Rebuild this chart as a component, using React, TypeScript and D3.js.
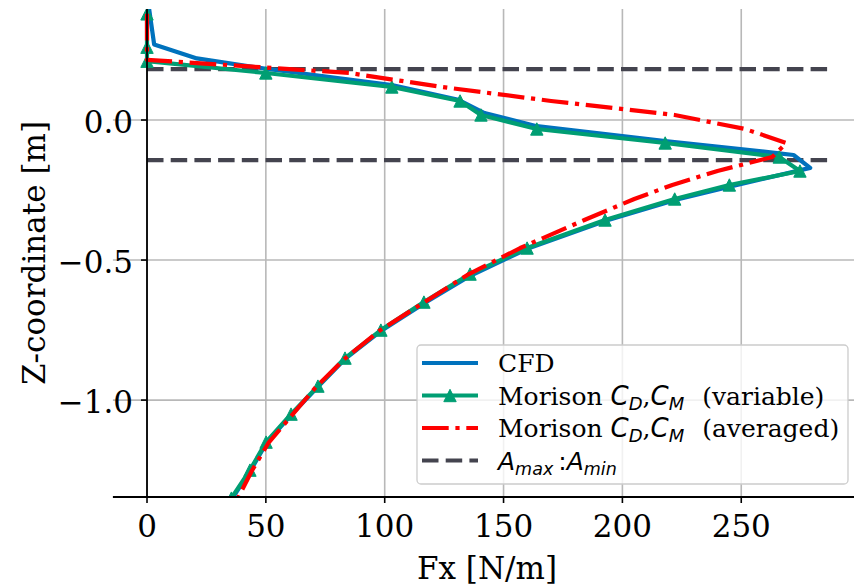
import React from 'react';
import * as d3 from 'd3';

// ---- data ----
const cfdX = [0.5, 3, 21, 50, 103, 131, 142, 164, 218, 265, 272, 279, 246, 223, 193, 160, 136, 117, 98.6, 83.5, 72, 60.8, 50.3, 43.5, 35.8];
const cfdZ = [0.42, 0.27, 0.22, 0.183, 0.125, 0.072, 0.025, -0.022, -0.075, -0.118, -0.125, -0.171, -0.236, -0.284, -0.36, -0.46, -0.556, -0.652, -0.752, -0.852, -0.952, -1.052, -1.152, -1.252, -1.352];

const varX = [0, 0, 0, 50, 103, 131.7, 140.5, 164, 218, 266, 274.7, 245, 222, 192.7, 159.9, 135.9, 116.5, 98.4, 83.3, 71.9, 60.6, 50.1, 43.3, 35.5];
const varZ = [0.379, 0.26, 0.21, 0.168, 0.118, 0.068, 0.018, -0.032, -0.082, -0.132, -0.182, -0.232, -0.282, -0.357, -0.457, -0.55, -0.65, -0.75, -0.85, -0.95, -1.05, -1.15, -1.25, -1.35];

const avgX = [0, 0, 0, 85, 124, 170, 222, 251.6, 269, 263, 240, 221, 205, 184, 157, 134.6, 116, 97.5, 83, 71, 61, 51, 44, 38];
const avgZ = [0.379, 0.26, 0.215, 0.168, 0.118, 0.068, 0.018, -0.032, -0.082, -0.132, -0.182, -0.232, -0.282, -0.357, -0.457, -0.554, -0.654, -0.754, -0.854, -0.954, -1.054, -1.154, -1.254, -1.354];

const ampZ = [0.182, -0.143];
const ampXRange = [0, 286.5];

const xTicks = [0, 50, 100, 150, 200, 250];
const yTicks = [-1.0, -0.5, 0.0];
const xLabel = 'Fx [N/m]';
const yLabel = 'Z-coordinate [m]';

const BLUE = '#0072BD';
const GREEN = '#009E73';
const RED = '#FF0000';
const DARK = '#44444f';
const SERIF = '"DejaVu Serif", serif';
const SANS = '"DejaVu Sans", sans-serif';

const tri = (s: number) => `M0,${-s} L${-s},${s} L${s},${s} Z`;

export default function App() {
  const W = 854, H = 585;
  const x = d3.scaleLinear().domain([-14.35, 301.35]).range([112.9, 863.3]);
  const y = d3.scaleLinear().domain([-1.346, 0.3964]).range([497, 9]);
  const [x0, x1] = x.range();
  const [yb, yt] = y.range();
  const line = d3.line<[number, number]>().x(d => x(d[0])).y(d => y(d[1]));
  const zip = (a: number[], b: number[]) => a.map((v, i) => [v, b[i]] as [number, number]);
  const cfd = zip(cfdX, cfdZ);
  const vari = zip(varX, varZ);
  const avg = zip(avgX, avgZ);
  const fmt = d3.format('.1f');
  const lw = 4.2;

  const legX = 417, legY = 345, legW = 431, legH = 139;
  const rowY = [363, 395.5, 428, 460.5];
  const hx0 = 422, hx1 = 478, tx = 498;
  const fs = 25;

  return (
    <svg width={W} height={H} style={{ position: 'absolute', left: 0, top: 0, background: '#fff' }}>
      <defs>
        <clipPath id="axclip">
          <rect x={x0} y={yt} width={x1 - x0} height={yb - yt} />
        </clipPath>
      </defs>
      {/* grid */}
      <g stroke="#b8b8b8" strokeWidth={1.6}>
        {xTicks.map(t => <line key={'gx' + t} x1={x(t)} x2={x(t)} y1={yt} y2={yb} />)}
        {yTicks.map(t => <line key={'gy' + t} x1={x0} x2={x1} y1={y(t)} y2={y(t)} />)}
      </g>
      {/* data */}
      <g clipPath="url(#axclip)" fill="none" strokeLinejoin="round">
        {ampZ.map((z, i) => (
          <line key={'a' + i} x1={x(ampXRange[0])} x2={x(ampXRange[1])} y1={y(z)} y2={y(z)}
            stroke={DARK} strokeWidth={lw} strokeDasharray="16.5 7.2" />
        ))}
        <path d={line(cfd) || ''} stroke={BLUE} strokeWidth={lw} />
        <path d={line(vari) || ''} stroke={GREEN} strokeWidth={lw} />
        {vari.map((d, i) => (
          <path key={'m' + i} d={tri(6.2)} transform={`translate(${x(d[0])},${y(d[1])})`} fill={GREEN} stroke={GREEN} strokeWidth={1} />
        ))}
        <path d={line(avg) || ''} stroke={RED} strokeWidth={lw} strokeDasharray="26.7 6.7 4.2 6.7" />
      </g>
      {/* spines */}
      <line x1={x0} x2={x1} y1={yb} y2={yb} stroke="#000" strokeWidth={1.8} />
      <line x1={x(0)} x2={x(0)} y1={yt} y2={yb} stroke="#000" strokeWidth={1.8} />
      {/* x ticks */}
      {xTicks.map(t => (
        <g key={'xt' + t}>
          <line x1={x(t)} x2={x(t)} y1={yb} y2={yb + 6} stroke="#000" strokeWidth={1.6} />
          <text x={x(t)} y={537} textAnchor="middle" fontFamily={SERIF} fontSize={31} fill="#000">{t}</text>
        </g>
      ))}
      {/* y ticks */}
      {yTicks.map(t => (
        <g key={'yt' + t}>
          <line x1={x(0) - 6} x2={x(0)} y1={y(t)} y2={y(t)} stroke="#000" strokeWidth={1.6} />
          <text x={133} y={y(t) + 13} textAnchor="end" fontFamily={SERIF} fontSize={31} fill="#000">{fmt(t)}</text>
        </g>
      ))}
      {/* axis labels */}
      <text x={487} y={579} textAnchor="middle" fontFamily={SERIF} fontSize={31} fill="#000">{xLabel}</text>
      <text transform={`translate(45,253) rotate(-90)`} textAnchor="middle" fontFamily={SERIF} fontSize={31} fill="#000">{yLabel}</text>
      {/* legend */}
      <rect x={legX} y={legY} width={legW} height={legH} rx={4} fill="#fff" fillOpacity={0.8} stroke="#cccccc" strokeWidth={1.3} />
      <line x1={hx0} x2={hx1} y1={rowY[0]} y2={rowY[0]} stroke={BLUE} strokeWidth={lw} />
      <line x1={hx0} x2={hx1} y1={rowY[1]} y2={rowY[1]} stroke={GREEN} strokeWidth={lw} />
      <path d={tri(6.2)} transform={`translate(${(hx0 + hx1) / 2},${rowY[1]})`} fill={GREEN} stroke={GREEN} strokeWidth={1} />
      <line x1={hx0} x2={hx1} y1={rowY[2]} y2={rowY[2]} stroke={RED} strokeWidth={lw} strokeDasharray="26.7 6.7 4.2 6.7" />
      <line x1={hx0} x2={hx1} y1={rowY[3]} y2={rowY[3]} stroke={DARK} strokeWidth={lw} strokeDasharray="16.5 7.2" />
      <text x={tx} y={rowY[0] + 9} fontFamily={SERIF} fontSize={fs}>CFD</text>
      {['variable', 'averaged'].map((w, i) => (
        <text key={w} x={tx} y={rowY[i + 1] + 9} fontFamily={SERIF} fontSize={fs}>
          Morison{' '}
          <tspan fontFamily={SANS} fontStyle="italic" fontSize={26}>C</tspan>
          <tspan fontFamily={SANS} fontStyle="italic" fontSize={18} dy={5}>D</tspan>
          <tspan dy={-5}>,</tspan>
          <tspan fontFamily={SANS} fontStyle="italic" fontSize={26}>C</tspan>
          <tspan fontFamily={SANS} fontStyle="italic" fontSize={18} dy={5}>M</tspan>
          <tspan dy={-5} dx={10}>{` (${w})`}</tspan>
        </text>
      ))}
      <text x={tx} y={rowY[3] + 9} fontFamily={SANS} fontSize={fs}>
        <tspan fontStyle="italic">A</tspan>
        <tspan fontStyle="italic" fontSize={17.5} dy={5}>max</tspan>
        <tspan dy={-5}>{'\u2009:'}</tspan>
        <tspan fontStyle="italic">A</tspan>
        <tspan fontStyle="italic" fontSize={17.5} dy={5}>min</tspan>
      </text>
    </svg>
  );
}
